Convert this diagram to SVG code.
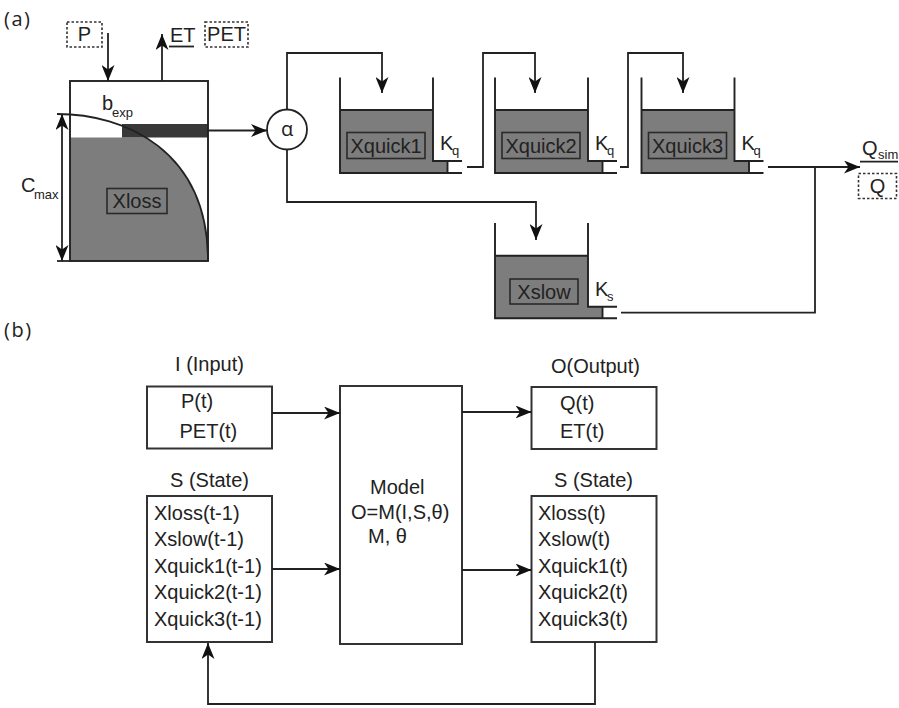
<svg xmlns="http://www.w3.org/2000/svg" width="899" height="708" viewBox="0 0 899 708">
<style>
text{font-family:"Liberation Sans",Arial,sans-serif;font-size:20px;fill:#222}
.sub{font-size:13px}
.os{font-family:"Open Sans","Noto Sans",sans-serif}
.ln{fill:none;stroke:#222;stroke-width:1.8}
.bx{fill:#fff;stroke:#333;stroke-width:2}
.dot{fill:#fff;stroke:#333;stroke-width:1.6;stroke-dasharray:2.5,2}
.water{fill:#7d7d7d;stroke:none}
.wall{fill:none;stroke:#222;stroke-width:1.9}
.lbl{fill:#7d7d7d;stroke:#2a2a2a;stroke-width:1.6}
.arr{marker-end:url(#ah)}
</style>
<defs>
<marker id="ah" markerUnits="userSpaceOnUse" viewBox="0 0 16 13" refX="16" refY="6.5" markerWidth="16" markerHeight="13" orient="auto-start-reverse">
<path d="M0,0 L16,6.5 L0,13 L4.5,6.5 Z" fill="#111"/>
</marker>
<clipPath id="lossclip"><rect x="70" y="137.5" width="138" height="124"/></clipPath>
</defs>

<text class="os" x="4" y="26" font-size="24" letter-spacing="1.5">(a)</text>
<text class="os" x="4" y="337" font-size="24" letter-spacing="1.5">(b)</text>

<!-- Panel (a) -->
<g id="P">
<rect class="dot" x="67" y="22" width="35" height="25"/>
<text x="84.5" y="41" text-anchor="middle">P</text>
</g>
<g id="ET">
<text x="170" y="42" font-size="19">ET</text>
<line class="ln" x1="169" y1="46.5" x2="194" y2="46.5"/>
</g>
<g id="PET">
<rect class="dot" x="205" y="22" width="43" height="25"/>
<text x="226.5" y="41" text-anchor="middle" font-size="19">PET</text>
</g>

<g id="Xloss">
<path class="water" d="M57,114 C125,114 208,150 208,261 L57,261 Z" clip-path="url(#lossclip)"/>
<rect x="122" y="124" width="86" height="13.5" fill="#383838"/>
<rect x="70" y="81" width="138" height="180" fill="none" stroke="#222" stroke-width="1.9"/>
<path class="ln" d="M57,114 C125,114 208,150 208,261"/>
<rect class="lbl" x="107" y="188.5" width="60" height="25"/>
<text x="137" y="208" text-anchor="middle">Xloss</text>
<text x="102" y="110">b</text>
<text class="sub" x="112" y="117">exp</text>
<text x="21" y="192">C</text>
<text class="sub" x="34" y="199">max</text>
<line class="ln" x1="57" y1="261" x2="70" y2="261"/>
</g>

<g id="alpha">
<circle cx="287" cy="129.5" r="20" fill="#fff" stroke="#222" stroke-width="1.8"/>
<text class="os" x="287" y="136" text-anchor="middle" font-size="21">α</text>
</g>

<g id="Xquick1">
<path class="water" d="M340,110 H433 V161 H447.5 V173 H340 Z"/>
<path class="wall" d="M340,77.5 V173 H462 M433,77.5 V161 H462 M447.5,161 V173 M340,110 H433"/>
<rect class="lbl" x="347" y="132.5" width="78" height="26"/>
<text x="386" y="152.5" text-anchor="middle">Xquick1</text>
<text x="440" y="150">K</text>
<text class="sub" x="452" y="155">q</text>
</g>
<g id="Xquick2">
<path class="water" d="M495,110 H588 V161 H602.5 V173 H495 Z"/>
<path class="wall" d="M495,77.5 V173 H617 M588,77.5 V161 H617 M602.5,161 V173 M495,110 H588"/>
<rect class="lbl" x="502" y="132.5" width="78" height="26"/>
<text x="541" y="152.5" text-anchor="middle">Xquick2</text>
<text x="595" y="150">K</text>
<text class="sub" x="607" y="155">q</text>
</g>
<g id="Xquick3">
<path class="water" d="M641.5,110 H734.5 V161 H749 V173 H641.5 Z"/>
<path class="wall" d="M641.5,77.5 V173 H763.5 M734.5,77.5 V161 H763.5 M749,161 V173 M641.5,110 H734.5"/>
<rect class="lbl" x="648.5" y="132.5" width="78" height="26"/>
<text x="687.5" y="152.5" text-anchor="middle">Xquick3</text>
<text x="741.5" y="150">K</text>
<text class="sub" x="753.5" y="155">q</text>
</g>
<g id="Xslow">
<path class="water" d="M495,255.7 H588 V306.7 H602.5 V318.3 H495 Z"/>
<path class="wall" d="M495,223 V318.3 H617 M588,223 V306.7 H617 M602.5,306.7 V318.3 M495,255.7 H588"/>
<rect class="lbl" x="510" y="279" width="68" height="25"/>
<text x="544" y="298.5" text-anchor="middle">Xslow</text>
<text x="595" y="296">K</text>
<text class="sub" x="607" y="301">s</text>
</g>

<g id="Qsim">
<text x="862" y="155">Q</text>
<text class="sub" x="878" y="159">sim</text>
<line class="ln" x1="860" y1="161.7" x2="898" y2="161.7"/>
</g>
<g id="Qobs">
<rect class="dot" x="858.5" y="173.5" width="38" height="25"/>
<text x="877.5" y="193" text-anchor="middle">Q</text>
</g>

<g id="connectors-a">
<line class="ln arr" x1="108" y1="33" x2="108" y2="81"/>
<line class="ln arr" x1="162" y1="81" x2="162" y2="34"/>
<line class="ln" x1="62" y1="114" x2="62" y2="261" marker-start="url(#ah)" marker-end="url(#ah)"/>
<line class="ln arr" x1="208" y1="130.5" x2="267" y2="130.5"/>
<path class="ln arr" d="M287,109.5 V53 H382 V93"/>
<path class="ln arr" d="M287,149.5 V202 H536 V240"/>
<path class="ln arr" d="M467,167 H483 V53 H535 V93"/>
<path class="ln arr" d="M620,167 H628 V53 H683 V93"/>
<path class="ln arr" d="M768,167 H860"/>
<path class="ln" d="M621,312.7 H815 V167"/>
</g>

<!-- Panel (b) -->
<g id="Input">
<text x="209.5" y="371" text-anchor="middle">I (Input)</text>
<rect class="bx" x="147" y="386.5" width="125" height="62"/>
<text x="181" y="408">P(t)</text>
<text x="179.5" y="438">PET(t)</text>
</g>
<g id="StateIn">
<text x="209.5" y="487" text-anchor="middle">S (State)</text>
<rect class="bx" x="147" y="496" width="125" height="146"/>
<text x="154" y="519.5">Xloss(t-1)</text>
<text x="154" y="546">Xslow(t-1)</text>
<text x="154" y="572.5">Xquick1(t-1)</text>
<text x="154" y="599">Xquick2(t-1)</text>
<text x="154" y="625.5">Xquick3(t-1)</text>
</g>
<g id="Model">
<rect class="bx" x="340" y="386" width="122" height="258"/>
<text x="370" y="494">Model</text>
<text x="351" y="519">O=M(I,S,θ)</text>
<text x="368" y="543">M, θ</text>
</g>
<g id="Output">
<text x="595.5" y="373" text-anchor="middle">O(Output)</text>
<rect class="bx" x="531.5" y="387" width="125" height="62"/>
<text x="560" y="410">Q(t)</text>
<text x="560" y="438">ET(t)</text>
</g>
<g id="StateOut">
<text x="593.5" y="487" text-anchor="middle">S (State)</text>
<rect class="bx" x="531.5" y="496" width="125" height="146"/>
<text x="538" y="519.5">Xloss(t)</text>
<text x="538" y="546">Xslow(t)</text>
<text x="538" y="572.5">Xquick1(t)</text>
<text x="538" y="599">Xquick2(t)</text>
<text x="538" y="625.5">Xquick3(t)</text>
</g>

<g id="connectors-b">
<line class="ln arr" x1="272" y1="413" x2="340" y2="413"/>
<line class="ln arr" x1="272" y1="569" x2="340" y2="569"/>
<line class="ln arr" x1="462" y1="412" x2="531.5" y2="412"/>
<line class="ln arr" x1="462" y1="570" x2="531.5" y2="570"/>
<path class="ln arr" d="M595,642 V704 H208 V643"/>
</g>
</svg>
